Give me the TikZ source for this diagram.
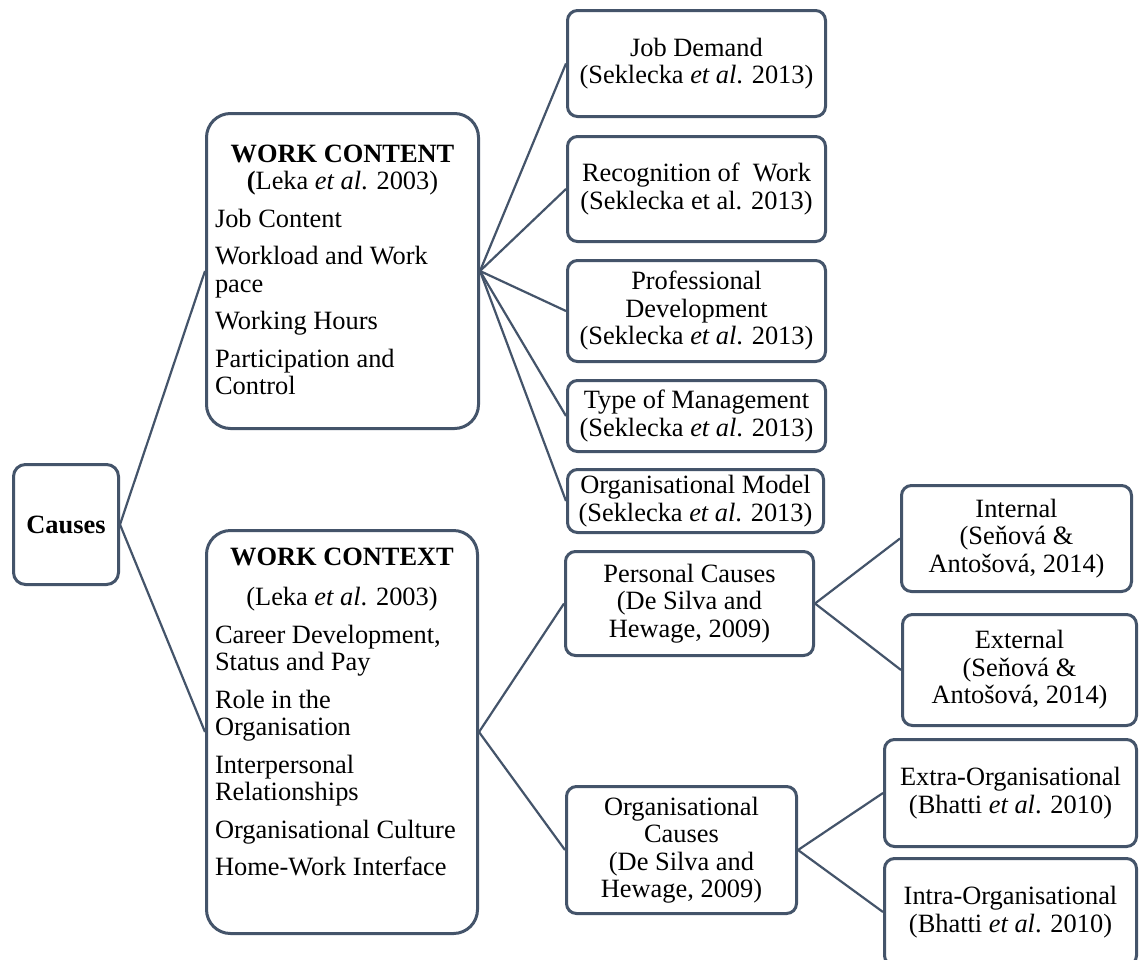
\documentclass[tikz,border=0pt]{standalone}
\usepackage{fontspec}
\setmainfont{Liberation Serif}
\definecolor{edge}{RGB}{68,84,106}
\begin{document}
\begin{tikzpicture}[x=0.5pt,y=-0.5pt,
  every node/.style={font=\fontsize{13.2pt}{13.75pt}\selectfont, text=black},
  box/.style={draw=edge, line width=1.5pt, rounded corners=5pt, fill=white,
              align=center, inner sep=0pt},
  bigbox/.style={draw=edge, line width=1.5pt, rounded corners=12pt, fill=white,
                 inner xsep=4.25pt, inner ysep=0pt},
  rootbox/.style={box, rounded corners=6pt},
  link/.style={draw=edge, line width=1.1pt}]
\clip (0,0) rectangle (1139,959);
\fill[white] (0,0) rectangle (1139,959);

% root
\node[rootbox, minimum width=52.5pt, minimum height=60pt] (causes) at (66,524.5) {\textbf{Causes}};

% second level
\node[bigbox, minimum width=136pt, minimum height=157.5pt] (wcont) at (342.5,271)
  {\parbox[c][157.5pt][t]{127.5pt}{\setlength{\parskip}{5pt}\setlength{\baselineskip}{13.75pt}%
    {\centering\rule{0pt}{24.25pt}\textbf{WORK CONTENT}\\\textbf{(}Leka \textit{et al}. 2003)\par}
    \raggedright
    Job Content\par
    Workload and Work\\pace\par
    Working Hours\par
    Participation and\\Control\par}};

\node[bigbox, minimum width=135.5pt, minimum height=201.5pt] (wctx) at (342,732)
  {\parbox[c][201.5pt][t]{127pt}{\setlength{\parskip}{5pt}\setlength{\baselineskip}{13.75pt}%
    {\centering\rule{0pt}{17.25pt}\textbf{WORK CONTEXT}\par}
    \vspace{1.5pt}
    {\centering (Leka \textit{et al}. 2003)\par}
    \raggedright
    Career Development,\\Status and Pay\par
    Role in the\\Organisation\par
    Interpersonal\\Relationships\par
    Organisational Culture\par
    Home-Work Interface\par}};

% work content factors
\node[box, minimum width=129pt, minimum height=53pt] (jd) at (696.5,63.5)
  {Job Demand\\(Seklecka \textit{et al}. 2013)};
\node[box, minimum width=129pt, minimum height=52.5pt] (rec) at (696.5,189)
  {Recognition of~ Work\\(Seklecka et al. 2013)};
\node[box, minimum width=129pt, minimum height=50.5pt] (prof) at (696.5,311)
  {Professional\\Development\\(Seklecka \textit{et al}. 2013)};
\node[box, minimum width=129pt, minimum height=35.5pt] (mgmt) at (696.5,416)
  {Type of Management\\(Seklecka \textit{et al}. 2013)};
\node[box, minimum width=128pt, minimum height=31.5pt] (model) at (695.5,501)
  {Organisational Model\\(Seklecka \textit{et al}. 2013)};

% work context factors
\node[box, minimum width=124pt, minimum height=52pt] (pers) at (689.5,603.5)
  {Personal Causes\\(De Silva and\\Hewage, 2009)};
\node[box, minimum width=115pt, minimum height=63.5pt] (orgc) at (681.5,850)
  {Organisational\\Causes\\(De Silva and\\Hewage, 2009)};

% fourth level
\node[box, minimum width=115pt, minimum height=53pt] (intl) at (1016.5,538.5)
  {Internal\\(Seňová \&\\Antošová, 2014)};
\node[box, minimum width=117pt, minimum height=55.5pt] (extl) at (1019.5,670)
  {External\\(Seňová \&\\Antošová, 2014)};
\node[box, minimum width=126pt, minimum height=53.5pt] (extra) at (1010.5,793)
  {Extra-Organisational\\(Bhatti \textit{et al}. 2010)};
\node[box, minimum width=126pt, minimum height=53.5pt] (intra) at (1010.5,912)
  {Intra-Organisational\\(Bhatti \textit{et al}. 2010)};

% connectors
\draw[link] (causes.east) -- (wcont.west);
\draw[link] (causes.east) -- (wctx.west);
\foreach \n in {jd,rec,prof,mgmt,model}
  \draw[link] (wcont.east) -- (\n.west);
\draw[link] (wctx.east) -- (pers.west);
\draw[link] (wctx.east) -- (orgc.west);
\draw[link] (pers.east) -- (intl.west);
\draw[link] (pers.east) -- (extl.west);
\draw[link] (orgc.east) -- (extra.west);
\draw[link] (orgc.east) -- (intra.west);
\end{tikzpicture}
\end{document}
